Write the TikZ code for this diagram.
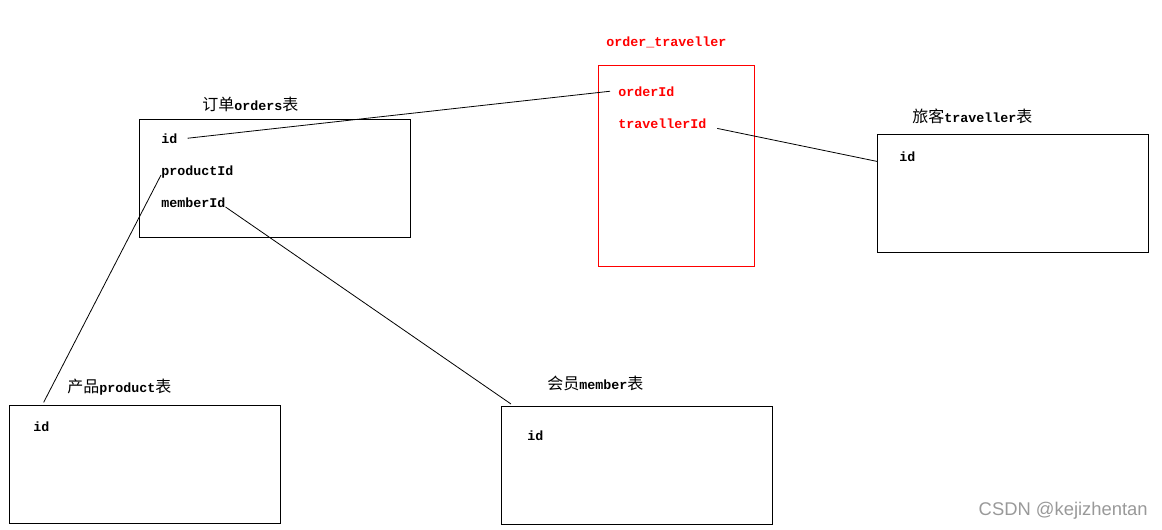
\documentclass[tikz,border=0pt]{standalone}
\usepackage{fontspec}
\setmonofont{Liberation Mono}
\newfontfamily\cjk{Noto Sans CJK SC}
\newfontfamily\wmfont{Liberation Sans}
\usepackage{tikz}

\newcommand\zh[1]{{\fontsize{12pt}{12pt}\cjk\mdseries #1}}

\tikzset{
  tbl/.style={draw, line width=0.75pt, anchor=north west, inner sep=0pt,
    minimum width=203.25pt, minimum height=88.5pt},
  fld/.style={anchor=base west, inner sep=0pt,
    font=\ttfamily\bfseries\fontsize{10pt}{10pt}\selectfont},
  link/.style={line width=0.6pt}
}

\begin{document}
\begin{tikzpicture}[x=0.75pt, y=-0.75pt]
\useasboundingbox (0,0) rectangle (1162,529);

% orders
\node[tbl] (orders) at (139,119) {};
\node[fld] (ordersT) at (202,110) {\zh{订单}orders\zh{表}};
\node[fld] (oid) at (161,143) {id};
\node[fld] (opid) at (161,175) {productId};
\node[fld] (omid) at (161,207) {memberId};

% order_traveller
\node[tbl, draw=red, minimum width=117pt, minimum height=150.75pt] (ot) at (598,65) {};
\node[fld, text=red] (otT) at (606,46) {order\_traveller};
\node[fld, text=red] (otoid) at (618,96) {orderId};
\node[fld, text=red] (ottid) at (618,128) {travellerId};

% traveller
\node[tbl] (trav) at (877,134) {};
\node[fld] (travT) at (912,122) {\zh{旅客}traveller\zh{表}};
\node[fld] (tvid) at (899,161) {id};

% product
\node[tbl] (prod) at (9,405) {};
\node[fld] (prodT) at (67,392) {\zh{产品}product\zh{表}};
\node[fld] (pdid) at (33,431) {id};

% member
\node[tbl] (mem) at (501,406) {};
\node[fld] (memT) at (547,389) {\zh{会员}member\zh{表}};
\node[fld] (mbid) at (527,440) {id};

% links
\draw[link] ([xshift=7.5pt]oid.east) -- ([xshift=-6pt]otoid.west);
\draw[link] ([xshift=8pt]ottid.south east) -- (trav.west |- tvid.south);
\draw[link] (opid.base west) -- ([xshift=26pt,yshift=2pt]prod.north west);
\draw[link] (omid.base east) -- ([xshift=7.5pt,yshift=1.5pt]mem.north west);

\node[anchor=base east, inner sep=0pt, text=black!40,
  font=\wmfont\fontsize{13.8pt}{13.8pt}\selectfont] (wm) at (1148,515) {CSDN @kejizhentan};
\end{tikzpicture}
\end{document}
